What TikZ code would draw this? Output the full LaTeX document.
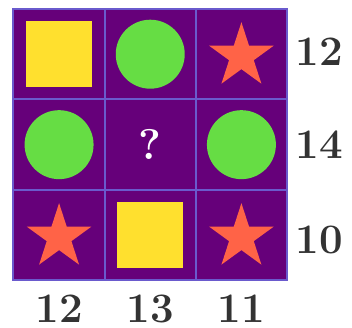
\documentclass[tikz,border=0pt]{standalone}
\usepackage{tikz}
\usetikzlibrary{shapes.geometric}
\definecolor{cellbg}{HTML}{66007A}
\definecolor{gridline}{HTML}{6A5ACD}
\definecolor{sqyellow}{HTML}{FFE02E}
\definecolor{discgreen}{HTML}{66DD44}
\definecolor{starred}{HTML}{FF6347}
\definecolor{sumgray}{HTML}{333333}
\begin{document}
\begin{tikzpicture}[x=91.2pt,y=90.5pt,
  cell/.style={draw=gridline,line width=2pt,fill=cellbg,minimum width=91.2pt,minimum height=90.5pt,inner sep=0pt},
  sq/.style={fill=sqyellow,minimum size=66pt,inner sep=0pt},
  disc/.style={circle,fill=discgreen,minimum size=69pt,inner sep=0pt},
  starfig/.style={star,star points=5,star point ratio=2.618,fill=starred,minimum size=68pt,inner sep=0pt,yshift=-2pt},
  sum/.style={text=sumgray,inner sep=0pt,font=\fontsize{42}{48}\selectfont\bfseries}]
\useasboundingbox (-0.148,-0.519) rectangle (3.713,3.099);
% grid
\foreach \r in {0,1,2}{
  \foreach \c in {0,1,2}{
    \node[cell] (c\r\c) at (\c+0.5,2.5-\r) {};}}
% figures
\foreach \r/\c/\f in {0/0/sq,0/1/disc,0/2/starfig,1/0/disc,1/2/disc,2/0/starfig,2/1/sq,2/2/starfig}{
  \node[\f] (f\r\c) at (c\r\c) {};}
\node[text=white,font=\fontsize{43}{50}\selectfont\bfseries] (q) at (c11) {?};
% sums
\foreach \r/\y/\v in {0/2.530/12,1/1.497/14,2/0.447/10}{
  \node[sum] (rs\r) at (3.355,\y) {\v};}
\foreach \c/\v in {0/12,1/13,2/11}{
  \node[sum] (cs\c) at (\c+0.5,-0.315) {\v};}
\end{tikzpicture}
\end{document}
